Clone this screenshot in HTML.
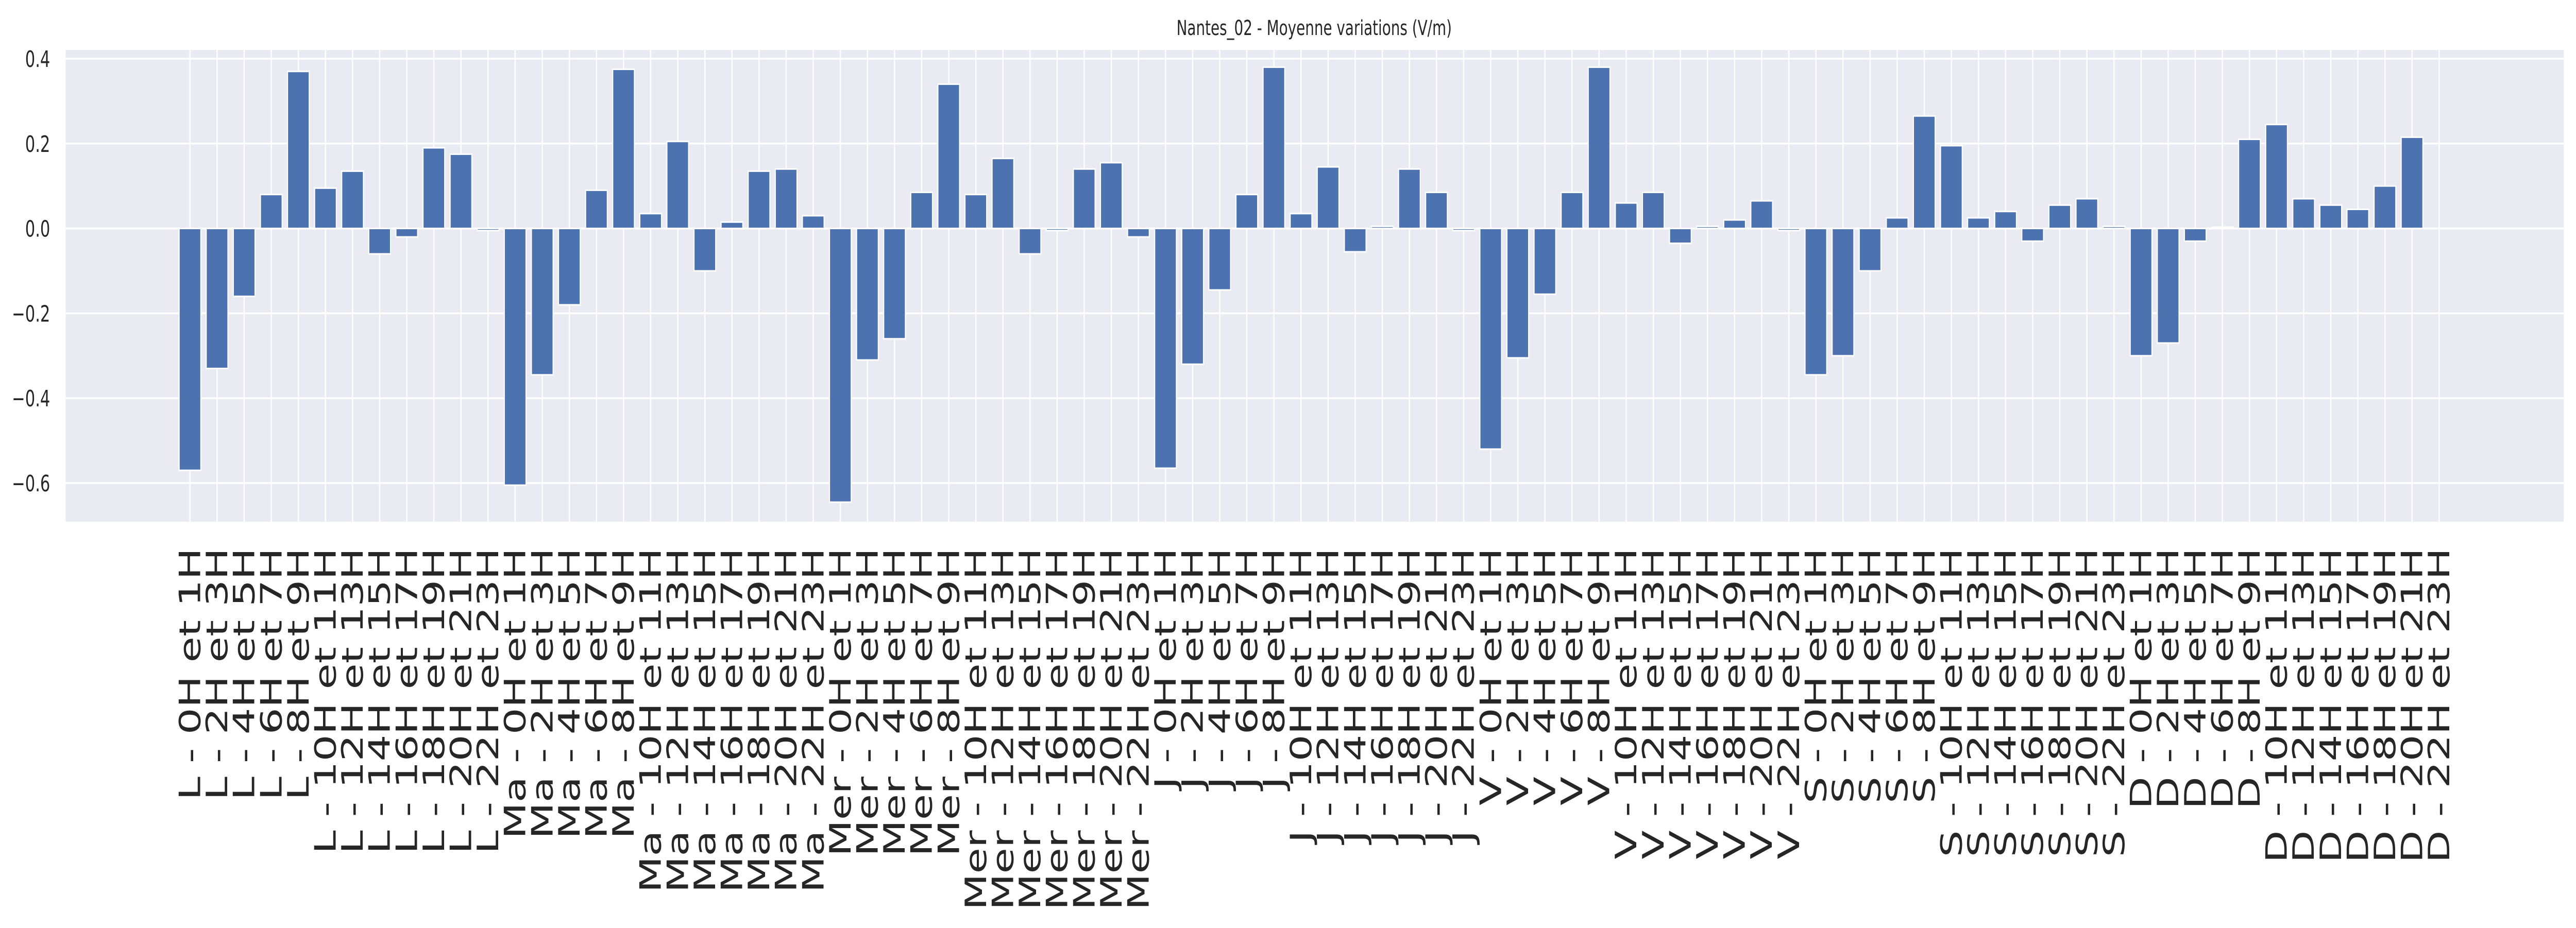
<!DOCTYPE html>
<html><head><meta charset="utf-8"><style>
html,body{margin:0;padding:0;background:#fff;width:100%;height:100%;overflow:hidden;}
svg{display:block;width:100vw;height:100vh;font-family:"DejaVu Sans","Liberation Sans",sans-serif;}
</style></head><body>
<svg id="chart" viewBox="0 0 7186 1802" preserveAspectRatio="none" xmlns="http://www.w3.org/2000/svg">
<text x="3666" y="68" font-size="40" fill="#262626" text-anchor="middle">Nantes_02 - Moyenne variations (V/m)</text>
<rect x="183" y="97" width="6969" height="916" fill="#eaeaf2"/>
<g id="grid"></g><g id="bars"></g><g id="yticks"></g><g id="xticks"></g>
</svg>
<script>
const days = ["L","Ma","Mer","J","V","S","D"];
const hours = ["0H et 1H","2H et 3H","4H et 5H","6H et 7H","8H et 9H","10H et 11H","12H et 13H","14H et 15H","16H et 17H","18H et 19H","20H et 21H","22H et 23H"];
const values = [
-0.57,-0.33,-0.16,0.08,0.37,0.095,0.135,-0.06,-0.02,0.19,0.175,-0.005,
-0.605,-0.345,-0.18,0.09,0.375,0.035,0.205,-0.10,0.015,0.135,0.14,0.03,
-0.645,-0.31,-0.26,0.085,0.34,0.08,0.165,-0.06,-0.005,0.14,0.155,-0.02,
-0.565,-0.32,-0.145,0.08,0.38,0.035,0.145,-0.055,0.005,0.14,0.085,-0.005,
-0.52,-0.305,-0.155,0.085,0.38,0.06,0.085,-0.035,0.005,0.02,0.065,-0.005,
-0.345,-0.30,-0.10,0.025,0.265,0.195,0.025,0.04,-0.03,0.055,0.07,0.005,
-0.30,-0.27,-0.03,0.003,0.21,0.245,0.07,0.055,0.045,0.10,0.215,0
];
const yTicks = [-0.6,-0.4,-0.2,0.0,0.2,0.4];

const NS = "http://www.w3.org/2000/svg";
const L = 183, R = 7152, T = 97, B = 1013;
const xMin = -4.59, xMax = 87.6, yMin = -0.691, yMax = 0.4206;
const xs = i => L + (i - xMin) / (xMax - xMin) * (R - L);
const ys = v => B - (v - yMin) / (yMax - yMin) * (B - T);
function mk(tag, attrs, parent){const e=document.createElementNS(NS,tag);for(const k in attrs)e.setAttribute(k,attrs[k]);parent.appendChild(e);return e;}
const grid=document.getElementById('grid'), bars=document.getElementById('bars'), yt=document.getElementById('yticks'), xt=document.getElementById('xticks');
const labels=[];
days.forEach(d=>hours.forEach(h=>labels.push(d+" - "+h)));
yTicks.forEach(v=>{
  const y=ys(v);
  const g=mk('line',{x1:L,x2:R,y1:y,y2:y,stroke:'#fff','stroke-width':3.5},grid);
  
  
  const t=mk('text',{x:140,y:y+16,'font-size':44,fill:'#262626','text-anchor':'end'},yt);
  t.textContent=(v<0?"\u2212":"")+Math.abs(v).toFixed(1);
  
  
});
labels.forEach((lab,i)=>{
  const x=xs(i);
  const g=mk('line',{x1:x,x2:x,y1:T,y2:B,stroke:'#fff','stroke-width':3.5},grid);
  
  
  const t=mk('text',{transform:'translate('+x+',1064) rotate(-90)','font-size':82,fill:'#262626','text-anchor':'end','dominant-baseline':'central'},xt);
  t.textContent=lab;
  
  
});
const bw=(xs(0.8)-xs(0));
values.forEach((v,i)=>{
  const y0=ys(0), y1=ys(v);
  const r=mk('rect',{x:xs(i)-bw/2,y:Math.min(y0,y1),width:bw,height:Math.abs(y1-y0),fill:'#4c72b0',stroke:'#fff','stroke-width':3},bars);
  
  
});
</script>
</body></html>
